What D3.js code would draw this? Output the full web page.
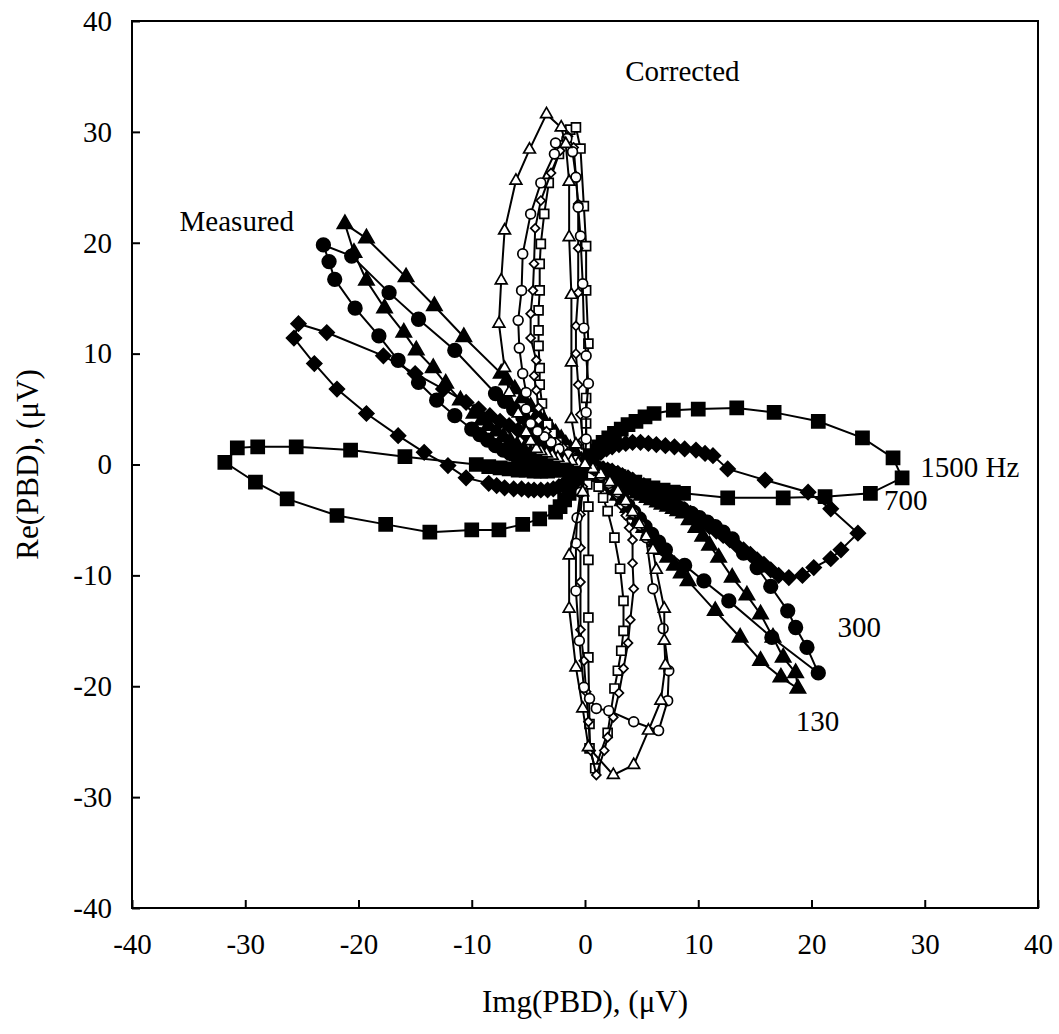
<!DOCTYPE html>
<html>
<head>
<meta charset="utf-8">
<script src="https://d3js.org/d3.v7.min.js"></script>
<style>
  body { margin: 0; background: #fff; }
  text { font-family: "Liberation Serif", "Times New Roman", serif; fill: #000; }
</style>
</head>
<body>
<svg id="chart" width="1059" height="1034"></svg>
<script>
// axis ticks
var xTicks = [-40, -30, -20, -10, 0, 10, 20, 30, 40];
var yTicks = [-40, -30, -20, -10, 0, 10, 20, 30, 40];

// measured loops, [Img, Re] in uV, filled markers
var m1500 = [[0,0],[-0.4,-0.1],[-0.8,-0.2],[-1.2,-0.3],[-1.7,-0.4],[-2.2,-0.5],[-2.7,-0.5],[-3.3,-0.6],[-3.9,-0.6],[-4.5,-0.6],[-5.2,-0.5],[-5.9,-0.5],[-6.7,-0.4],[-7.5,-0.3],[-8.5,-0.2],[-9.6,0.0],[-15.9,0.7],[-20.7,1.3],[-25.5,1.6],[-28.9,1.6],[-30.7,1.5],[-31.8,0.2],[-29.1,-1.6],[-26.3,-3.1],[-21.9,-4.6],[-17.6,-5.4],[-13.7,-6.1],[-10.0,-5.9],[-7.6,-5.9],[-5.5,-5.4],[-4.0,-4.9],[-2.6,-4.3],[-2.2,-3.8],[-1.8,-3.2],[-1.4,-2.6],[-1.0,-2.0],[-0.7,-1.4],[-0.4,-0.8],[-0.2,-0.4],[0,0],
  [0.2,0.4],[0.5,0.8],[0.8,1.2],[1.2,1.6],[1.6,2.0],[2.1,2.4],[2.6,2.8],[3.2,3.2],[3.8,3.6],[4.5,3.9],[5.3,4.3],[6.1,4.6],[7.8,4.9],[10.0,5.0],[13.4,5.1],[16.7,4.7],[20.6,3.9],[24.5,2.4],[27.2,0.6],[28.0,-1.2],[25.2,-2.6],[21.2,-2.9],[17.5,-3.0],[12.6,-3.0],[8.7,-2.6],[7.8,-2.5],[6.9,-2.3],[6.0,-2.1],[5.2,-1.9],[4.4,-1.6],[3.7,-1.4],[3.0,-1.1],[2.3,-0.8],[1.7,-0.6],[1.1,-0.4],[0.5,-0.2],[0,0]];
var m700 = [[0,0],[-0.3,0.1],[-0.6,0.3],[-1.0,0.5],[-1.4,0.7],[-1.8,0.9],[-2.3,1.2],[-2.8,1.5],[-3.3,1.7],[-3.9,2.0],[-4.5,2.4],[-5.2,2.7],[-5.9,3.1],[-6.7,3.5],[-7.5,3.9],[-8.4,4.4],[-9.4,5.0],[-10.5,5.6],[-12.5,6.8],[-15.0,8.2],[-17.8,9.8],[-22.8,11.9],[-25.3,12.7],[-25.7,11.4],[-23.9,9.1],[-21.9,6.8],[-19.3,4.6],[-16.5,2.6],[-14.2,1.1],[-12.1,-0.1],[-10.5,-1.2],[-8.5,-1.7],[-7.8,-1.9],[-7.1,-2.1],[-6.3,-2.2],[-5.6,-2.2],[-5.0,-2.3],[-4.5,-2.3],[-3.9,-2.3],[-3.3,-2.3],[-2.8,-2.2],[-2.3,-2.0],[-1.8,-1.7],[-1.4,-1.4],[-1.0,-1.0],[-0.6,-0.6],[-0.3,-0.3],[0,0],
  [0.3,0.3],[0.6,0.6],[1.0,0.9],[1.4,1.1],[1.9,1.4],[2.4,1.6],[3.0,1.8],[3.6,1.9],[4.2,2.0],[4.9,2.0],[5.6,1.9],[6.3,1.8],[7.1,1.7],[7.9,1.6],[8.8,1.4],[9.8,1.3],[10.6,1.0],[11.3,0.8],[12.6,-0.4],[15.9,-1.4],[19.7,-2.5],[21.7,-4.0],[24.1,-6.2],[22.6,-7.7],[21.7,-8.5],[20.2,-9.3],[19.2,-10.0],[18.0,-10.2],[17.1,-10.0],[16.4,-9.5],[15.8,-9.0],[15.2,-8.6],[14.6,-8.1],[14.0,-7.7],[13.4,-7.3],[12.8,-6.8],[12.2,-6.4],[11.6,-6.0],[11.0,-5.6],[10.4,-5.2],[9.9,-4.8],[9.3,-4.4],[8.8,-4.1],[8.2,-3.7],[7.7,-3.4],[7.2,-3.1],[6.7,-2.8],[6.2,-2.5],[5.7,-2.2],[5.2,-1.9],[4.7,-1.7],[4.2,-1.4],[3.8,-1.2],[3.3,-1.0],[2.9,-0.8],[2.4,-0.6],[2.0,-0.5],[1.6,-0.4],[1.2,-0.3],[0.8,-0.2],[0.4,-0.1],[0,0]];
var m300 = [[0,0],[-0.3,0.2],[-0.7,0.4],[-1.1,0.7],[-1.5,1.0],[-1.9,1.3],[-2.4,1.7],[-2.9,2.1],[-3.5,2.6],[-4.1,3.1],[-4.8,3.7],[-5.5,4.3],[-6.3,5.0],[-7.1,5.7],[-7.9,6.4],[-11.5,10.3],[-14.7,13.1],[-17.3,15.5],[-20.6,18.8],[-23.1,19.8],[-22.6,18.3],[-22.1,16.7],[-20.3,14.1],[-18.2,11.6],[-16.5,9.4],[-14.7,7.4],[-13.1,5.8],[-11.5,4.4],[-10.0,3.2],[-9.3,2.7],[-8.6,2.2],[-7.9,1.7],[-7.2,1.3],[-6.6,1.0],[-6.0,0.7],[-5.4,0.4],[-4.8,0.2],[-4.2,0.0],[-3.6,-0.1],[-3.0,-0.2],[-2.4,-0.2],[-1.8,-0.2],[-1.2,-0.2],[-0.6,-0.1],[0,0],
  [0.3,-0.1],[0.6,-0.3],[1.0,-0.5],[1.4,-0.6],[1.8,-0.8],[2.3,-1.0],[2.8,-1.3],[3.3,-1.5],[3.9,-1.8],[4.5,-2.1],[5.1,-2.4],[5.8,-2.7],[6.5,-3.0],[7.2,-3.3],[7.9,-3.7],[8.6,-4.0],[9.4,-4.4],[10.1,-4.8],[10.8,-5.2],[11.5,-5.6],[12.2,-6.1],[13.0,-6.7],[14.0,-8.0],[15.2,-9.3],[16.4,-11.0],[17.9,-13.2],[18.6,-14.7],[19.6,-16.5],[20.6,-18.8],[16.5,-15.6],[12.7,-12.3],[10.5,-10.5],[8.8,-9.1],[7.1,-7.7],[6.5,-7.0],[5.9,-6.3],[5.3,-5.6],[4.8,-4.9],[4.3,-4.3],[3.8,-3.7],[3.3,-3.1],[2.9,-2.6],[2.4,-2.1],[2.0,-1.7],[1.6,-1.3],[1.2,-0.9],[0.8,-0.6],[0.4,-0.3],[0,0]];
var m130 = [[0,0],[-0.3,0.3],[-0.6,0.6],[-1.0,1.0],[-1.3,1.4],[-1.7,1.8],[-2.1,2.3],[-2.6,2.8],[-3.1,3.4],[-3.6,3.9],[-4.2,4.5],[-4.8,5.2],[-5.5,6.0],[-6.2,6.8],[-6.9,7.6],[-7.4,8.2],[-10.7,11.5],[-13.3,14.3],[-15.8,16.9],[-19.3,20.4],[-21.2,21.7],[-20.4,19.1],[-19.3,16.6],[-17.7,14.1],[-16.0,11.9],[-14.9,10.3],[-13.4,8.7],[-12.3,7.3],[-11.0,5.8],[-9.8,4.6],[-9.1,4.0],[-8.5,3.5],[-7.8,3.0],[-7.2,2.5],[-6.6,2.1],[-6.0,1.7],[-5.4,1.3],[-4.8,1.0],[-4.3,0.8],[-3.8,0.6],[-3.3,0.4],[-2.9,0.3],[-2.4,0.2],[-2.0,0.1],[-1.6,0.0],[-1.2,0.0],[-0.8,0.0],[-0.4,0.0],[0,0],
  [0.3,-0.1],[0.5,-0.3],[0.8,-0.5],[1.1,-0.7],[1.5,-0.9],[1.8,-1.1],[2.2,-1.3],[2.5,-1.5],[2.9,-1.7],[3.3,-1.9],[3.7,-2.1],[4.1,-2.3],[4.6,-2.6],[5.0,-2.8],[5.5,-3.0],[5.9,-3.2],[6.4,-3.4],[6.8,-3.6],[7.3,-3.8],[7.8,-4.0],[8.2,-4.2],[8.7,-4.4],[9.2,-5.0],[9.8,-5.7],[10.4,-6.5],[11.0,-7.3],[11.8,-8.4],[13.0,-10.2],[14.3,-11.8],[15.5,-13.5],[16.6,-15.6],[17.5,-17.4],[18.6,-18.8],[18.8,-20.2],[17.3,-19.2],[15.5,-17.7],[13.7,-15.6],[11.5,-13.2],[9.1,-10.5],[8.5,-9.8],[7.9,-9.1],[7.3,-8.4],[6.8,-7.7],[6.2,-7.0],[5.7,-6.4],[5.2,-5.7],[4.7,-5.1],[4.2,-4.5],[3.8,-3.9],[3.3,-3.3],[2.9,-2.8],[2.5,-2.3],[2.1,-1.9],[1.7,-1.5],[1.3,-1.1],[0.9,-0.8],[0.6,-0.5],[0.3,-0.2],[0,0]];

// corrected loops, open markers
var c1500 = [[0,0],[-0.6,0.4],[-1.2,0.8],[-1.8,1.4],[-2.4,2.0],[-2.9,2.8],[-3.3,3.6],[-3.8,5.5],[-4.0,7.2],[-4.0,8.7],[-4.1,10.7],[-4.1,12.1],[-4.1,13.9],[-4.0,15.7],[-4.0,18.1],[-3.9,19.9],[-3.6,22.6],[-3.2,25.4],[-2.3,28.0],[-1.3,30.2],[-0.8,30.4],[-0.4,28.5],[-0.1,23.3],[0.1,19.7],[0.1,15.7],[0.3,10.9],[0.1,6.0],[0.1,3.7],[0.1,1.8],[0,0],
  [0.2,-1.8],[0.3,-3.8],[0.3,-8.6],[0.3,-13.8],[0.3,-17.4],[0.4,-23.4],[0.4,-25.6],[0.9,-27.4],[2.0,-24.2],[2.6,-20.2],[2.9,-18.6],[3.2,-16.8],[3.4,-15.0],[3.4,-12.3],[3.1,-9.4],[2.6,-6.6],[2.0,-4.2],[1.6,-3.0],[1.2,-2.0],[0.6,-0.9],[0,0]];
var c700 = [[0,0],[-0.7,0.5],[-1.3,1.0],[-1.9,1.5],[-2.5,2.0],[-3.4,3.0],[-4.1,4.0],[-4.1,5.1],[-4.3,6.7],[-4.5,8.0],[-4.3,9.4],[-4.8,11.4],[-4.8,13.6],[-4.6,15.7],[-4.5,18.1],[-4.4,21.3],[-3.9,23.8],[-3.0,26.3],[-2.2,28.3],[-1.5,29.6],[-1.0,28.6],[-0.8,26.0],[-0.6,23.5],[-0.6,19.5],[-0.6,15.5],[-0.8,12.5],[-0.8,10.0],[-0.6,7.2],[-0.4,4.5],[-0.2,2.2],[0,0],
  [-0.2,-2.0],[-0.4,-4.5],[-0.4,-7.5],[-0.4,-10.6],[-0.4,-14.9],[-0.1,-17.7],[0.1,-20.5],[0.3,-23.2],[0.5,-25.8],[1.0,-28.0],[1.7,-25.8],[2.0,-24.6],[2.5,-22.8],[3.0,-20.6],[3.4,-18.4],[3.8,-16.1],[4.0,-14.0],[4.3,-11.2],[4.2,-8.9],[4.2,-6.8],[3.9,-5.7],[3.6,-4.6],[3.2,-3.7],[2.8,-2.8],[2.2,-2.0],[1.5,-1.2],[0.8,-0.6],[0,0]];
var c300 = [[0,0],[-0.8,0.4],[-1.5,0.9],[-2.3,1.4],[-3.0,2.0],[-3.6,2.5],[-4.2,3.0],[-4.8,3.7],[-5.2,5.0],[-5.2,6.5],[-5.5,8.2],[-5.8,10.5],[-5.9,13.0],[-5.6,15.7],[-5.5,19.0],[-4.8,22.6],[-3.9,25.4],[-2.7,28.0],[-2.6,29.0],[-1.6,29.4],[-1.1,28.2],[-0.8,25.9],[-0.6,23.2],[-0.4,20.6],[-0.2,16.3],[-0.1,12.3],[0.1,9.8],[0.3,7.3],[0.1,4.7],[0.1,2.3],[0,0],
  [-0.4,-2.5],[-0.7,-4.8],[-0.8,-7.1],[-0.8,-11.4],[-0.5,-15.9],[-0.1,-20.1],[0.4,-21.1],[1.0,-22.0],[2.1,-22.2],[4.3,-23.2],[6.5,-24.0],[7.3,-21.3],[7.4,-18.6],[6.9,-14.8],[6.0,-11.2],[5.4,-6.6],[4.9,-5.5],[4.3,-4.4],[3.6,-3.4],[2.9,-2.5],[2.1,-1.7],[1.4,-1.0],[0.7,-0.4],[0,0]];
var c130 = [[0,0],[-0.6,0.1],[-1.2,0.3],[-1.8,0.4],[-2.4,0.6],[-2.9,0.8],[-3.4,1.0],[-3.9,1.2],[-4.3,1.4],[-4.8,2.1],[-5.2,2.9],[-5.9,4.6],[-6.7,6.5],[-7.1,8.7],[-7.6,12.7],[-7.4,16.6],[-7.1,21.1],[-6.1,25.6],[-4.9,28.4],[-3.4,31.6],[-2.1,30.4],[-1.7,28.9],[-1.4,25.5],[-1.4,20.5],[-1.2,15.3],[-1.2,9.2],[-1.2,4.1],[-0.8,1.8],[0,0],
  [-0.2,-2.5],[-1.4,-8.2],[-1.4,-13.0],[-0.8,-18.3],[-0.2,-22.0],[0.3,-25.5],[2.5,-28.0],[4.3,-27.1],[5.6,-24.0],[6.7,-21.3],[7.1,-18.1],[7.0,-15.9],[7.0,-13.0],[6.3,-9.5],[6.0,-7.7],[5.4,-6.5],[4.8,-5.4],[4.2,-4.3],[3.6,-3.3],[2.9,-2.4],[2.2,-1.6],[1.4,-0.9],[0.7,-0.4],[0,0]];

// annotations
var noteText = ['Corrected', 'Measured', '1500 Hz', '700', '300', '130'];
var notePos = [[8.6, 34.6], [-35.8, 21.1], [29.6, -1.1], [26.4, -4.1], [22.3, -15.6], [18.6, -24.0]];
var noteAnchor = ['middle', 'start', 'start', 'start', 'start', 'start'];

var serif = '"Liberation Serif", "Times New Roman", serif';

var svg = d3.select('#chart');
svg.append('rect').attr('width', 1059).attr('height', 1034).attr('fill', '#fff');

var x = d3.scaleLinear().domain([-40, 40]).range([132, 1038]);
var y = d3.scaleLinear().domain([-40, 40]).range([908, 21]);

// axes, ticks pointing inward
var xAxis = svg.append('g')
  .attr('transform', 'translate(0,' + y(-40) + ')')
  .call(d3.axisBottom(x).tickValues(xTicks).tickSizeInner(-8).tickSizeOuter(0)
    .tickPadding(25).tickFormat(function(d){ return String(d); }));
var yAxis = svg.append('g')
  .attr('transform', 'translate(' + x(-40) + ',0)')
  .call(d3.axisLeft(y).tickValues(yTicks).tickSizeInner(-8).tickSizeOuter(0)
    .tickPadding(20).tickFormat(function(d){ return String(d); }));
[xAxis, yAxis].forEach(function(g){
  g.select('.domain').remove();
  g.attr('font-family', serif).attr('font-size', 29);
  g.selectAll('line').attr('stroke', '#000').attr('stroke-width', 2);
  g.selectAll('text').style('font-family', serif).style('font-size', '29px');
});

svg.append('rect')
  .attr('x', x(-40)).attr('y', y(40))
  .attr('width', x(40) - x(-40)).attr('height', y(-40) - y(40))
  .attr('fill', 'none').attr('stroke', '#000').attr('stroke-width', 2);

svg.append('text').attr('x', (x(-40) + x(40)) / 2).attr('y', 1012)
  .attr('text-anchor', 'middle').style('font-size', '31px').text('Img(PBD), (\u03bcV)');
svg.append('text')
  .attr('transform', 'translate(38,' + (y(-40) + y(40)) / 2 + ') rotate(-90)')
  .attr('text-anchor', 'middle').style('font-size', '31px').text('Re(PBD), (\u03bcV)');

var series = [
  {pts: m1500, type: d3.symbolSquare,   size: 170, rot: 0,  fill: '#000'},
  {pts: m700,  type: d3.symbolSquare,   size: 110, rot: 45, fill: '#000'},
  {pts: m300,  type: d3.symbolCircle,   size: 145, rot: 0,  fill: '#000'},
  {pts: m130,  type: d3.symbolTriangle, size: 100, rot: 0,  fill: '#000'},
  {pts: c1500, type: d3.symbolSquare,   size: 80,  rot: 0,  fill: '#fff'},
  {pts: c700,  type: d3.symbolSquare,   size: 40,  rot: 45, fill: '#fff'},
  {pts: c300,  type: d3.symbolCircle,   size: 75,  rot: 0,  fill: '#fff'},
  {pts: c130,  type: d3.symbolTriangle, size: 60,  rot: 0,  fill: '#fff'}
];

var line = d3.line().x(function(d){ return x(d[0]); }).y(function(d){ return y(d[1]); });

series.forEach(function(s){
  var g = svg.append('g');
  g.append('path').attr('d', line(s.pts))
    .attr('fill', 'none').attr('stroke', '#000').attr('stroke-width', 2);
  g.selectAll('path.mk').data(s.pts).enter().append('path')
    .attr('class', 'mk')
    .attr('d', d3.symbol().type(s.type).size(s.size))
    .attr('transform', function(d){ return 'translate(' + x(d[0]) + ',' + y(d[1]) + ') rotate(' + s.rot + ')'; })
    .attr('fill', s.fill).attr('stroke', '#000').attr('stroke-width', 1.7);
});

svg.selectAll('text.note').data(noteText).enter().append('text')
  .attr('class', 'note')
  .attr('x', function(d, i){ return x(notePos[i][0]); })
  .attr('y', function(d, i){ return y(notePos[i][1]); })
  .attr('text-anchor', function(d, i){ return noteAnchor[i]; })
  .style('font-size', '29px')
  .text(function(d){ return d; });
</script>
</body>
</html>
